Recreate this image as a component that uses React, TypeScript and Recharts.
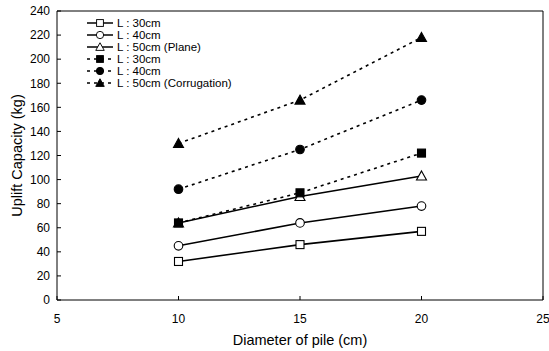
import React from 'react';
import {
  LineChart,
  Line,
  XAxis,
  YAxis,
  ReferenceLine,
} from 'recharts';

const diameters = [10, 15, 20];
const plane30 = [32, 46, 57];
const plane40 = [45, 64, 78];
const plane50 = [64, 86, 103];
const corr30 = [64, 89, 122];
const corr40 = [92, 125, 166];
const corr50 = [130, 166, 218];
const xTicks = [5, 10, 15, 20, 25];
const yTicks = [0, 20, 40, 60, 80, 100, 120, 140, 160, 180, 200, 220, 240];

const data = diameters.map((d, i) => ({
  d,
  p30: plane30[i],
  p40: plane40[i],
  p50: plane50[i],
  c30: corr30[i],
  c40: corr40[i],
  c50: corr50[i],
}));

type Shape = 'square' | 'circle' | 'triangle';

const series: { key: string; label: string; shape: Shape; filled: boolean }[] = [
  { key: 'p30', label: 'L : 30cm', shape: 'square', filled: false },
  { key: 'p40', label: 'L : 40cm', shape: 'circle', filled: false },
  { key: 'p50', label: 'L : 50cm (Plane)', shape: 'triangle', filled: false },
  { key: 'c30', label: 'L : 30cm', shape: 'square', filled: true },
  { key: 'c40', label: 'L : 40cm', shape: 'circle', filled: true },
  { key: 'c50', label: 'L : 50cm (Corrugation)', shape: 'triangle', filled: true },
];

const FONT = '"Liberation Sans", Arial, sans-serif';

// marker glyph
const Marker = ({ cx, cy, shape, filled }: { cx: number; cy: number; shape: Shape; filled: boolean }) => {
  const fill = filled ? '#000' : '#fff';
  if (shape === 'square') {
    return <rect x={cx - 4} y={cy - 4} width={8} height={8} fill={fill} stroke="#000" strokeWidth={1.1} />;
  }
  if (shape === 'circle') {
    return <circle cx={cx} cy={cy} r={4.3} fill={fill} stroke="#000" strokeWidth={1.1} />;
  }
  return (
    <polygon
      points={`${cx},${cy - 5} ${cx + 5},${cy + 4} ${cx - 5},${cy + 4}`}
      fill={fill}
      stroke="#000"
      strokeWidth={1.1}
    />
  );
};

const makeDot = (shape: Shape, filled: boolean) => (props: any) => {
  const { cx, cy, index } = props;
  return (
    <g key={`dot-${shape}-${filled}-${index}`}>
      <Marker cx={cx} cy={cy} shape={shape} filled={filled} />
    </g>
  );
};

const LegendBox = () => (
  <svg width={170} height={80} style={{ overflow: 'visible', display: 'block' }}>
    {series.map((s, i) => {
      const y = 11 + i * 12;
      return (
        <g key={s.key}>
          <line
            x1={2}
            x2={28}
            y1={y}
            y2={y}
            stroke="#000"
            strokeWidth={1.5}
            strokeDasharray={s.filled ? '3 4' : undefined}
          />
          <g transform={`translate(${15},${y}) scale(0.85) translate(${-15},${-y})`}>
            <Marker cx={15} cy={y} shape={s.shape} filled={s.filled} />
          </g>
          <text x={32} y={y + 4} fontSize={11.5} fontFamily={FONT} fill="#000">
            {s.label}
          </text>
        </g>
      );
    })}
  </svg>
);

export default function App() {
  return (
    <div style={{ position: 'absolute', left: 0, top: 0, width: 549, height: 351, background: '#fff' }}>
      <LineChart width={549} height={351} data={data} margin={{ top: 11, right: 6, left: 0, bottom: 0 }}>
        <XAxis
          dataKey="d"
          type="number"
          domain={[5, 25]}
          ticks={xTicks}
          height={51}
          tickSize={-4}
          tickMargin={18}
          stroke="#000"
          tick={{ fill: '#000', fontSize: 12, fontFamily: FONT }}
          label={{
            value: 'Diameter of pile (cm)',
            position: 'center',
            dy: 14,
            fill: '#000',
            fontSize: 14.5,
            fontFamily: FONT,
          }}
        />
        <YAxis
          type="number"
          domain={[0, 240]}
          ticks={yTicks}
          width={57}
          tickSize={-4}
          tickMargin={11}
          stroke="#000"
          tick={{ fill: '#000', fontSize: 12, fontFamily: FONT }}
          label={{
            value: 'Uplift Capacity (kg)',
            angle: -90,
            position: 'center',
            dx: -12,
            fill: '#000',
            fontSize: 14.5,
            fontFamily: FONT,
          }}
        />
        <ReferenceLine y={240} stroke="#000" strokeWidth={1} />
        <ReferenceLine x={25} stroke="#000" strokeWidth={1} />
        {series.map((s) => (
          <Line
            key={s.key}
            dataKey={s.key}
            stroke="#000"
            strokeWidth={1.6}
            strokeDasharray={s.filled ? '3 4' : undefined}
            dot={makeDot(s.shape, s.filled)}
            activeDot={false}
            isAnimationActive={false}
          />
        ))}
      </LineChart>
      <div style={{ position: 'absolute', left: 85, top: 12 }}>
        <LegendBox />
      </div>
    </div>
  );
}
